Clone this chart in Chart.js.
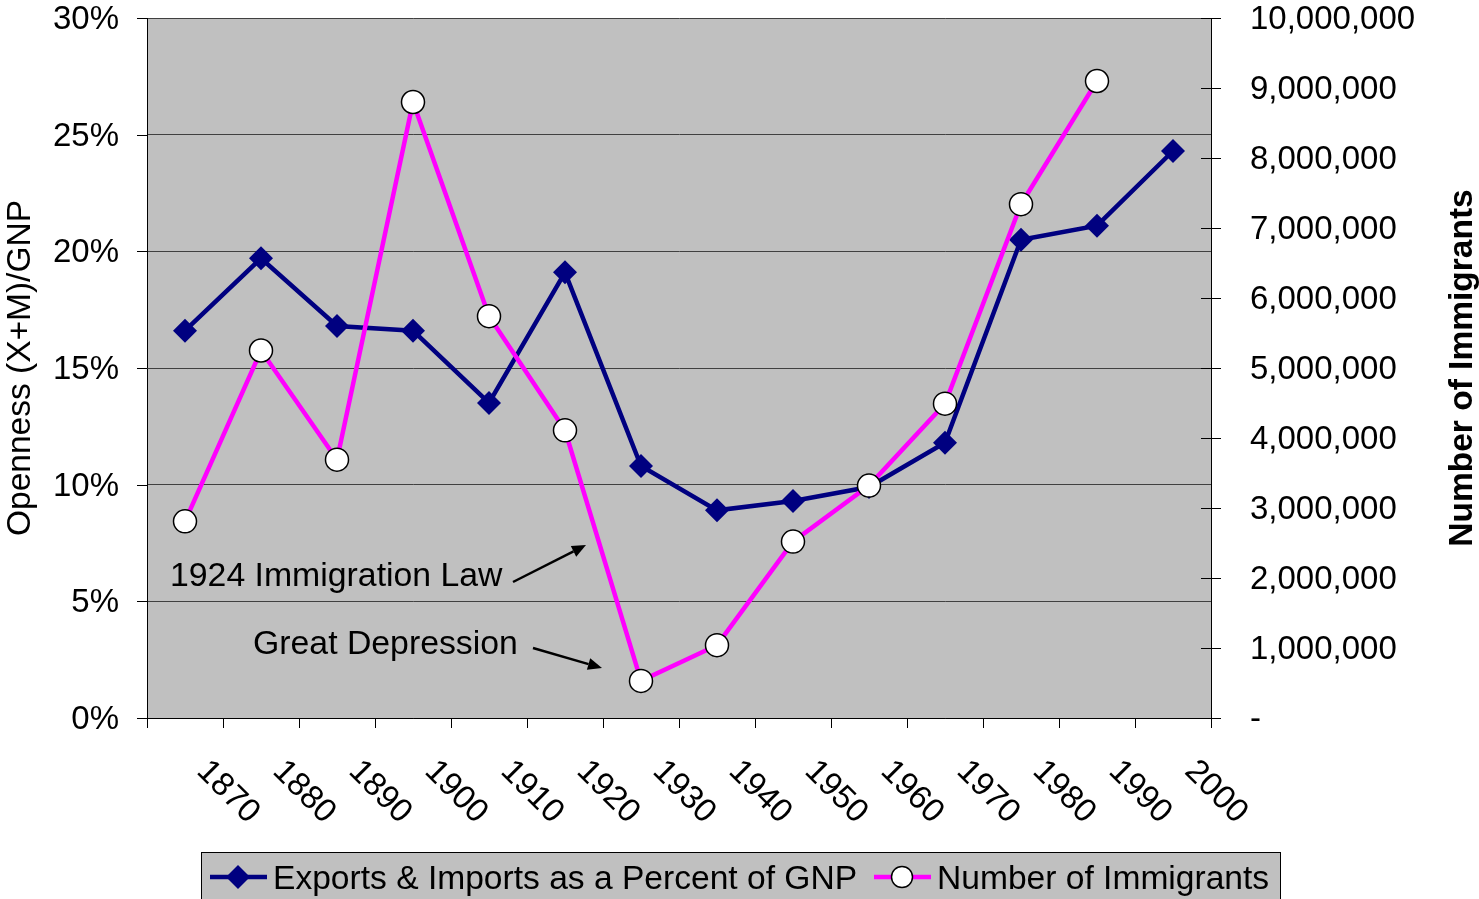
<!DOCTYPE html>
<html>
<head>
<meta charset="utf-8">
<script src="https://cdn.jsdelivr.net/npm/chart.js@4/dist/chart.umd.min.js"></script>
<style>
html,body{margin:0;padding:0;background:#fff;}
#wrap{width:1479px;height:899px;position:relative;overflow:hidden;}
</style>
</head>
<body>
<div id="wrap"><canvas id="c" width="1479" height="899"></canvas></div>
<script>
// ---- data ----
const years = ['1870','1880','1890','1900','1910','1920','1930','1940','1950','1960','1970','1980','1990','2000'];
const opennessPct = [16.6, 19.7, 16.8, 16.6, 13.5, 19.1, 10.8, 8.9, 9.3, 9.9, 11.8, 20.5, 21.1, 24.3];
const immigrants = [2810000, 5250000, 3690000, 8800000, 5740000, 4110000, 530000, 1040000, 2520000, 3320000, 4490000, 7340000, 9100000, null];
const leftTicksMax = 30, leftTickStep = 5;
const rightTicksMax = 10000000, rightTickStep = 1000000;
const seriesNames = ['Exports & Imports as a Percent of GNP', 'Number of Immigrants'];
const leftTitle = 'Openness (X+M)/GNP';
const rightTitle = 'Number of Immigrants';
const notes = ['1924 Immigration Law', 'Great Depression'];

const FONT = '"Liberation Sans", Arial, sans-serif';
Chart.defaults.font.family = FONT;
Chart.defaults.color = '#000';

const NAVY = '#000080', MAGENTA = '#FF00FF', PLOT_BG = '#C0C0C0';

function arrow(ctx, x1, y1, x2, y2) {
  ctx.save();
  ctx.strokeStyle = '#000'; ctx.fillStyle = '#000'; ctx.lineWidth = 2.5;
  const a = Math.atan2(y2 - y1, x2 - x1), L = 14, W = 6;
  const bx = x2 - L * Math.cos(a), by = y2 - L * Math.sin(a);
  ctx.beginPath(); ctx.moveTo(x1, y1); ctx.lineTo(bx, by); ctx.stroke();
  ctx.beginPath();
  ctx.moveTo(x2, y2);
  ctx.lineTo(bx + W * Math.sin(a), by - W * Math.cos(a));
  ctx.lineTo(bx - W * Math.sin(a), by + W * Math.cos(a));
  ctx.closePath(); ctx.fill();
  ctx.restore();
}

const decor = {
  id: 'decor',
  beforeDraw(chart) {
    const {ctx, chartArea: a} = chart;
    ctx.save();
    ctx.fillStyle = PLOT_BG;
    ctx.fillRect(a.left, a.top, a.right - a.left, a.bottom - a.top);
    ctx.restore();
  },
  afterDraw(chart) {
    const {ctx, chartArea: a} = chart;
    const xs = chart.scales.x, yr = chart.scales.yR, yl = chart.scales.yL;
    ctx.save();
    // axis tick marks: left outside, right crossing
    ctx.strokeStyle = '#000'; ctx.lineWidth = 1;
    yl.ticks.forEach(t => {
      const y = Math.round(yl.getPixelForValue(t.value)) + 0.5;
      ctx.beginPath(); ctx.moveTo(a.left - 10, y); ctx.lineTo(a.left, y); ctx.stroke();
    });
    yr.ticks.forEach(t => {
      const y = Math.round(yr.getPixelForValue(t.value)) + 0.5;
      ctx.beginPath(); ctx.moveTo(a.right - 10, y); ctx.lineTo(a.right + 10, y); ctx.stroke();
    });
    // x labels rotated
    ctx.fillStyle = '#000';
    ctx.font = '33px ' + FONT;
    ctx.textAlign = 'center'; ctx.textBaseline = 'middle';
    years.forEach((yv, i) => {
      const x = xs.getPixelForValue(i);
      ctx.save();
      ctx.translate(x + 43, a.bottom + 74);
      ctx.rotate(Math.PI / 4);
      ctx.fillText(yv, 0, 0);
      ctx.restore();
    });
    // axis titles
    const midY = (a.top + a.bottom) / 2;
    ctx.save();
    ctx.translate(30, midY); ctx.rotate(-Math.PI / 2);
    ctx.textAlign = 'center'; ctx.textBaseline = 'alphabetic';
    ctx.font = '33.5px ' + FONT;
    ctx.fillText(leftTitle, 0, 0);
    ctx.restore();
    ctx.save();
    ctx.translate(1472, midY); ctx.rotate(-Math.PI / 2);
    ctx.textAlign = 'center'; ctx.textBaseline = 'alphabetic';
    ctx.font = 'bold 33.5px ' + FONT;
    ctx.fillText(rightTitle, 0, 0);
    ctx.restore();
    // annotations
    ctx.font = '33.8px ' + FONT;
    ctx.textAlign = 'left'; ctx.textBaseline = 'alphabetic';
    ctx.fillText(notes[0], 170, 586);
    arrow(ctx, 513, 582, 586, 545);
    ctx.fillText(notes[1], 253, 654);
    arrow(ctx, 533, 648, 602, 668);
    // legend
    ctx.fillStyle = PLOT_BG;
    ctx.fillRect(201.5, 852.5, 1079, 60);
    ctx.strokeStyle = '#000'; ctx.lineWidth = 1;
    ctx.strokeRect(201.5, 852.5, 1079, 60);
    const ly = 877;
    ctx.lineWidth = 4.5; ctx.strokeStyle = NAVY;
    ctx.beginPath(); ctx.moveTo(210, ly); ctx.lineTo(267, ly); ctx.stroke();
    ctx.fillStyle = NAVY;
    ctx.beginPath(); ctx.moveTo(238 - 12, ly); ctx.lineTo(238, ly - 12); ctx.lineTo(238 + 12, ly); ctx.lineTo(238, ly + 12); ctx.closePath(); ctx.fill();
    ctx.strokeStyle = MAGENTA;
    ctx.beginPath(); ctx.moveTo(874, ly); ctx.lineTo(931, ly); ctx.stroke();
    ctx.fillStyle = '#fff'; ctx.strokeStyle = '#000'; ctx.lineWidth = 1.5;
    ctx.beginPath(); ctx.arc(902, ly, 10.5, 0, Math.PI * 2); ctx.fill(); ctx.stroke();
    ctx.fillStyle = '#000';
    ctx.font = '33.6px ' + FONT;
    ctx.fillText(seriesNames[0], 273, 889);
    ctx.fillText(seriesNames[1], 937, 889);
    ctx.restore();
  }
};

new Chart(document.getElementById('c'), {
  type: 'line',
  data: {
    labels: years,
    datasets: [
      {
        label: seriesNames[0], data: opennessPct, yAxisID: 'yL', order: 2,
        borderColor: NAVY, backgroundColor: NAVY, borderWidth: 4.5, tension: 0,
        pointStyle: 'rectRot', pointRadius: 12, pointBorderWidth: 0,
        pointBackgroundColor: NAVY, pointBorderColor: NAVY
      },
      {
        label: seriesNames[1], data: immigrants, yAxisID: 'yR', order: 1,
        borderColor: MAGENTA, backgroundColor: '#fff', borderWidth: 4.5, tension: 0,
        pointStyle: 'circle', pointRadius: 11.5, pointBorderWidth: 1.5,
        pointBackgroundColor: '#fff', pointBorderColor: '#000'
      }
    ]
  },
  options: {
    responsive: false, animation: false,
    layout: {padding: {top: 18, left: 0, right: 0, bottom: 0}},
    plugins: {legend: {display: false}, tooltip: {enabled: false}},
    scales: {
      x: {
        type: 'category', offset: true,
        grid: {display: true, drawOnChartArea: false, offset: true, tickLength: 10, color: '#000', lineWidth: 1},
        border: {display: true, color: '#000', width: 1},
        ticks: {display: false},
        afterFit(s) { s.height = 899 - 718; }
      },
      yL: {
        position: 'left', min: 0, max: leftTicksMax,
        grid: {color: '#404040', lineWidth: 1, tickLength: 28, drawTicks: true, tickColor: 'rgba(0,0,0,0)'},
        border: {display: true, color: '#000', width: 1},
        ticks: {stepSize: leftTickStep, padding: 0, labelOffset: 2, font: {size: 33, lineHeight: 1}, color: '#000',
          callback: v => v + '%'},
        afterFit(s) { s.width = 147; }
      },
      yR: {
        position: 'right', min: 0, max: rightTicksMax,
        grid: {drawOnChartArea: false, tickLength: 39, tickColor: 'rgba(0,0,0,0)', lineWidth: 1},
        border: {display: true, color: '#000', width: 1},
        ticks: {stepSize: rightTickStep, padding: 0, labelOffset: 2, font: {size: 33, lineHeight: 1}, color: '#000',
          callback: v => v === 0 ? '-' : v.toLocaleString('en-US')},
        afterFit(s) { s.width = 1479 - 1211; }
      }
    }
  },
  plugins: [decor]
});
</script>
</body>
</html>
